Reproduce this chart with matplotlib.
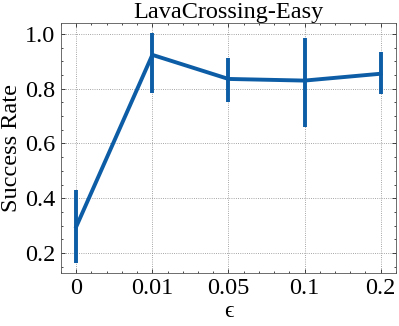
import matplotlib
matplotlib.use("Agg")
import matplotlib.pyplot as plt
from matplotlib.ticker import MultipleLocator

eps_labels = ["0", "0.01", "0.05", "0.1", "0.2"]
success = [0.296, 0.924, 0.836, 0.830, 0.855]
err_low = [0.134, 0.140, 0.083, 0.170, 0.075]
err_high = [0.134, 0.079, 0.076, 0.155, 0.079]

plt.rcParams["font.family"] = ["Liberation Serif", "DejaVu Serif"]
plt.rcParams["mathtext.fontset"] = "stix"

fig = plt.figure(figsize=(3.99, 3.26), dpi=100)
ax = fig.add_axes([0.153, 0.163, 0.839, 0.766])

xs = list(range(len(eps_labels)))
ax.errorbar(xs, success, yerr=[err_low, err_high], color="#0C5DA5",
            linewidth=2.8, elinewidth=2.8, capsize=0)

ax.set_xticks(xs)
ax.set_xticklabels(eps_labels)
ax.set_xlim(-0.2, 4.2)
ax.set_ylim(0.127, 1.04)
ax.set_yticks([0.2, 0.4, 0.6, 0.8, 1.0])
ax.xaxis.set_minor_locator(MultipleLocator(0.2))
ax.yaxis.set_minor_locator(MultipleLocator(0.05))

ax.tick_params(which="both", direction="in", top=True, right=True,
               labelsize=17.5, width=0.5)
ax.tick_params(which="major", length=3, pad=4)
ax.tick_params(which="minor", length=1.5)
for s in ax.spines.values():
    s.set_linewidth(0.6)
    s.set_color("#555555")

ax.grid(which="major", linestyle=":", linewidth=0.6, color="#888888")

ax.set_title("LavaCrossing-Easy", fontsize=17.5, pad=2)
ax.set_ylabel("Success Rate", fontsize=17.5, labelpad=2)
ax.set_xlabel("\u03f5", fontsize=17, labelpad=1)

fig.savefig("out.png", dpi=100)
